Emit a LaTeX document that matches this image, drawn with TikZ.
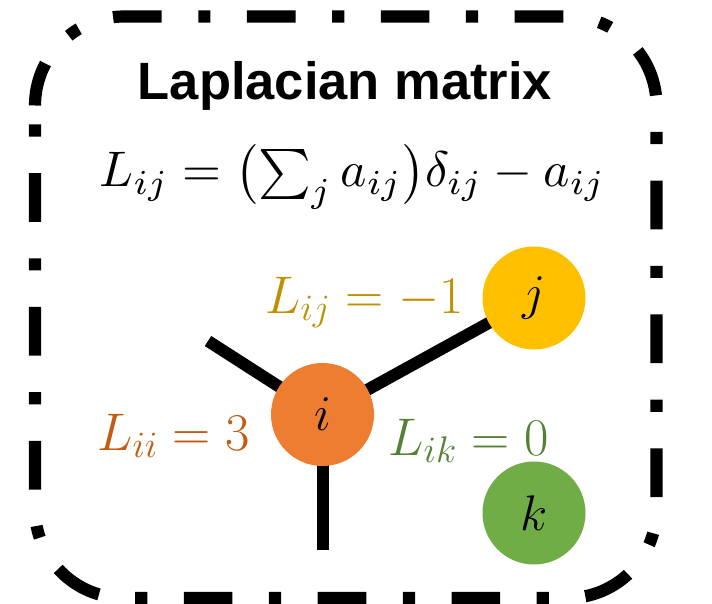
\RequirePackage{fix-cm}
\documentclass[tikz,border=0pt]{standalone}
\usepackage[no-math]{fontspec}
\newfontfamily\titlefont{Liberation Sans}
\usetikzlibrary{backgrounds}
\definecolor{fillI}{HTML}{ED7D31}
\definecolor{fillJ}{HTML}{FFC000}
\definecolor{fillK}{HTML}{70AD47}
\definecolor{textI}{HTML}{C55A11}
\definecolor{textJ}{HTML}{BF9000}
\definecolor{textK}{HTML}{548235}
\begin{document}
\begin{tikzpicture}[x=1pt,y=-1pt,
  border/.style={line width=12.17pt, dash pattern=on 48.68pt off 36.51pt on 12.17pt off 36.51pt, dash phase=5pt},
  edge/.style={line width=12pt},
  vertex/.style={circle, minimum size=103pt, inner sep=0pt, font=\fontsize{50}{60}\selectfont},
  lab/.style={inner sep=0pt, anchor=base, font=\fontsize{53}{60}\selectfont}]
\useasboundingbox (0,0) rectangle (712,604);
% border
\draw[border] (35,105.5) arc[start angle=180, end angle=270, radius=89]
  -- (567.5,16.5) arc[start angle=270, end angle=360, radius=89]
  -- (656.5,509) arc[start angle=0, end angle=90, radius=89]
  -- (124,598) arc[start angle=90, end angle=180, radius=89] -- cycle;
% texts
\node[lab, font=\fontsize{52.5}{60}\selectfont] (title) at (345,100) {\titlefont\bfseries Laplacian matrix};
\node[lab, font=\fontsize{10}{12}\selectfont] (formula) at (352.5,187) {\scalebox{5.0}{$L_{ij} = \bigl(\sum_j a_{ij}\bigr)\delta_{ij} - a_{ij}$}};
% vertices
\node[vertex, fill=fillI] (i) at (322.5,414.5) {$i$};
\node[vertex, fill=fillJ] (j) at (534,298) {$j$};
\node[vertex, fill=fillK] (k) at (534,513) {$k$};
\coordinate (ul) at (208,341);
\coordinate (bt) at (322.5,550);
\begin{pgfonlayer}{background}
\fill[white] (0,0) rectangle (712,604);
\draw[edge] (i.center) -- (j.center);
\draw[edge] (i.center) -- (ul);
\draw[edge] (i.center) -- (bt);
\end{pgfonlayer}
% labels
\node[lab, text=textJ] (lij) at (364.5,313) {$L_{ij} = -1$};
\node[lab, text=textI] (lii) at (173.5,450) {$L_{ii} = 3$};
\node[lab, text=textK] (lik) at (468.5,455) {$L_{ik} = 0$};
\end{tikzpicture}
\end{document}
